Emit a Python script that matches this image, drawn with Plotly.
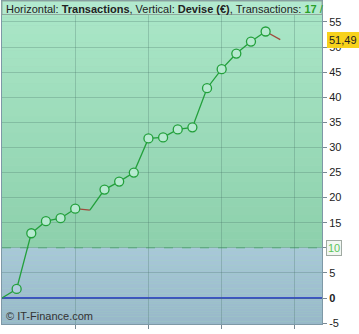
import plotly.graph_objects as go

# ---- data ----
trans_x = list(range(20))
devise_y = [0, 1.8, 12.9, 15.3, 15.9, 17.8, 17.5, 21.6, 23.2, 25.0, 31.8, 32.0,
            33.6, 34.0, 41.8, 45.6, 48.7, 51.1, 53.1, 51.49]
has_marker = [0, 1, 1, 1, 1, 1, 0, 1, 1, 1, 1, 1, 1, 1, 1, 1, 1, 1, 1, 0]
y_ticks = [-5, 0, 5, 10, 15, 20, 25, 30, 35, 40, 45, 50, 55]
x_ticks = [5, 10, 15, 20]
threshold = 10
last_label = "51,49"
n_trans = 17

Y_MIN, Y_MAX = -5.18, 59.18
X_MIN, X_MAX = 0, 21.85

fig = go.Figure()

# ---- background gradient bands ----
def lerp(c1, c2, t):
    return tuple(int(round(a + (b - a) * t)) for a, b in zip(c1, c2))

shapes = []
def bands(y0, y1, ctop, cbot, n=30):
    for i in range(n):
        ya = y1 - (y1 - y0) * i / n
        yb = y1 - (y1 - y0) * (i + 1) / n
        c = lerp(ctop, cbot, (i + 0.5) / n)
        shapes.append(dict(type="rect", xref="paper", yref="y", x0=0, x1=1,
                           y0=yb, y1=ya, fillcolor="rgb(%d,%d,%d)" % c,
                           line=dict(width=0), layer="below"))

bands(threshold, Y_MAX, (171, 231, 200), (141, 208, 172))
bands(Y_MIN, threshold, (168, 200, 216), (152, 184, 201))

# threshold dashed line
shapes.append(dict(type="line", xref="paper", yref="y", x0=0, x1=1, y0=threshold, y1=threshold,
                   line=dict(color="#5cba7c", width=1, dash="dash"), layer="between"))
# zero line
shapes.append(dict(type="line", xref="paper", yref="y", x0=0, x1=1, y0=0, y1=0,
                   line=dict(color="#1b2fc4", width=1.3), layer="between"))
# header box
shapes.append(dict(type="rect", xref="paper", yref="paper", x0=0, x1=1, y0=1 - 13.5 / 323, y1=1,
                   fillcolor="#b2e9cf", line=dict(color="#8ea89c", width=1), layer="above"))

# ---- line segments (green up, red down) ----
segs = []
for i in range(len(devise_y) - 1):
    col = "#a04a3c" if devise_y[i + 1] < devise_y[i] else "#23a03c"
    if segs and segs[-1][0] == col and segs[-1][1][-1] == i:
        segs[-1][1].append(i + 1)
    else:
        segs.append([col, [i, i + 1]])

for col, idx in segs:
    fig.add_trace(go.Scatter(x=[trans_x[k] for k in idx], y=[devise_y[k] for k in idx],
                             mode="lines", line=dict(color=col, width=1.3),
                             hoverinfo="skip", showlegend=False))

mx = [trans_x[k] for k in range(len(trans_x)) if has_marker[k]]
my = [devise_y[k] for k in range(len(trans_x)) if has_marker[k]]
fills = ["#b6ead0" if v > threshold else "#b0cede" for v in my]
fig.add_trace(go.Scatter(x=mx, y=my, mode="markers",
                         marker=dict(size=9, color=fills, line=dict(color="#23a03c", width=1.3)),
                         showlegend=False))

# ---- tick labels ----
ytext = []
for v in y_ticks:
    if v == 0:
        ytext.append("<b>0</b>")
    elif v == threshold:
        ytext.append("")
    else:
        ytext.append(str(v))

annotations = [
    dict(xref="paper", yref="paper", x=0, y=1, xanchor="left", yanchor="top", xshift=2, yshift=0,
         showarrow=False, align="left",
         text="Horizontal: <b>Transactions</b>, Vertical: <b>Devise (€)</b>, Transactions: "
              "<b><span style='color:#2aa02a'>%d</span></b> <span style='color:#2aa02a'>/</span>" % n_trans,
         font=dict(family="Liberation Sans, Arial", size=11, color="#222")),
    dict(xref="paper", yref="paper", x=0, y=0, xanchor="left", yanchor="bottom", xshift=2, yshift=0,
         showarrow=False, text="© IT-Finance.com",
         font=dict(family="Liberation Sans, Arial", size=11, color="#333")),
    dict(xref="paper", yref="y", x=1, y=threshold, xanchor="left", yanchor="middle", xshift=4,
         showarrow=False, text=str(threshold), bgcolor="#f2f7f2", bordercolor="#a0aaa2",
         borderwidth=1, borderpad=1,
         font=dict(family="Liberation Sans, Arial", size=11, color="#5cc55c")),
    dict(xref="paper", yref="y", x=1, y=devise_y[-1], xanchor="left", yanchor="middle", xshift=5,
         showarrow=False, text=last_label, bgcolor="#f7d21c", bordercolor="#f7d21c",
         borderwidth=1, borderpad=1,
         font=dict(family="Liberation Sans, Arial", size=11, color="#222")),
]

fig.update_layout(
    width=359, height=334,
    margin=dict(l=2, r=37, t=1, b=10, autoexpand=False),
    paper_bgcolor="white", plot_bgcolor="#a0d8bc",
    shapes=shapes, annotations=annotations,
    showlegend=False,
    font=dict(family="Liberation Sans, Arial", size=11, color="#222"),
    xaxis=dict(range=[X_MIN, X_MAX], tickvals=x_ticks, ticks="outside", ticklen=4,
               tickcolor="#7a8a94", showgrid=True, gridcolor="rgba(70,110,100,0.28)", gridwidth=1,
               showline=True, mirror=True, linecolor="#7e98a6", linewidth=1, zeroline=False,
               automargin=False, tickfont=dict(size=11, color="#222")),
    yaxis=dict(range=[Y_MIN, Y_MAX], side="right", tickvals=y_ticks, ticktext=ytext,
               ticks="outside", ticklen=4, tickcolor="#7a8a94",
               showgrid=True, gridcolor="rgba(70,110,100,0.28)", gridwidth=1,
               showline=True, mirror=True, linecolor="#7e98a6", linewidth=1, zeroline=False,
               automargin=False, tickfont=dict(size=11, color="#222")),
)

fig.write_html("out.html")
